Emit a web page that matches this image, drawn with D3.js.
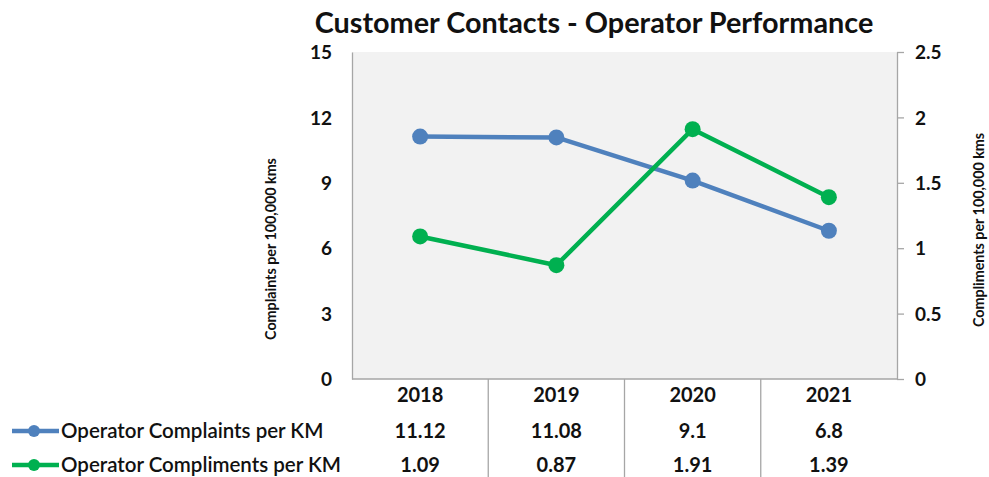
<!DOCTYPE html>
<html>
<head>
<meta charset="utf-8">
<script src="https://cdn.jsdelivr.net/npm/d3@7"></script>
<style>
  body { margin: 0; background: #fff; }
  text { font-family: Lato, "Open Sans", sans-serif; fill: #111; }
</style>
</head>
<body>
<script>
"use strict";

// chart data
var years = ["2018", "2019", "2020", "2021"];
var complaints = [11.12, 11.08, 9.1, 6.8];
var compliments = [1.09, 0.87, 1.91, 1.39];
var leftTicks = [0, 3, 6, 9, 12, 15];
var rightTicks = [0, 0.5, 1, 1.5, 2, 2.5];

var series = [
  { name: "Operator Complaints per KM", values: complaints, axis: "left", color: "#4f81bd" },
  { name: "Operator Compliments per KM", values: compliments, axis: "right", color: "#00b050" }
];

var W = 989, H = 477;
var plot = { left: 352, right: 897, top: 52, bottom: 379 };

var svg = d3.select("body").append("svg")
    .attr("width", W)
    .attr("height", H);

// scales
var xScale = d3.scaleBand()
    .domain(years)
    .range([plot.left, plot.right]);

var yLeft = d3.scaleLinear()
    .domain([0, 15])
    .range([plot.bottom, plot.top]);

var yRight = d3.scaleLinear()
    .domain([0, 2.5])
    .range([plot.bottom, plot.top]);

// plot background
svg.append("rect")
    .attr("x", plot.left)
    .attr("y", plot.top)
    .attr("width", plot.right - plot.left)
    .attr("height", plot.bottom - plot.top)
    .attr("fill", "#f2f2f2");

// title
svg.append("text")
    .attr("x", 594)
    .attr("y", 33)
    .attr("text-anchor", "middle")
    .attr("font-size", 28.8)
    .attr("font-weight", "bold")
    .text("Customer Contacts - Operator Performance");

// left axis (no ticks)
var gLeft = svg.append("g")
    .attr("transform", "translate(" + plot.left + ",0)")
    .call(d3.axisLeft(yLeft).tickValues(leftTicks).tickSize(0).tickPadding(20));

// right axis (outer ticks)
var gRight = svg.append("g")
    .attr("transform", "translate(" + plot.right + ",0)")
    .call(d3.axisRight(yRight).tickValues(rightTicks).tickSizeInner(7).tickSizeOuter(0).tickPadding(11)
      .tickFormat(function(d) { return String(d); }));

[gLeft, gRight].forEach(function(g) {
  g.select(".domain").attr("stroke", "#a6a6a6").attr("stroke-width", 1.3);
  g.selectAll(".tick line").attr("stroke", "#a6a6a6").attr("stroke-width", 1.3);
  g.selectAll(".tick text")
      .attr("font-size", 19)
      .attr("font-weight", "bold")
      .attr("font-family", "Lato, sans-serif")
      .attr("fill", "#111")
      .attr("dy", "0.35em");
});

// bottom axis line
svg.append("line")
    .attr("x1", plot.left)
    .attr("x2", plot.right)
    .attr("y1", plot.bottom)
    .attr("y2", plot.bottom)
    .attr("stroke", "#a6a6a6")
    .attr("stroke-width", 1.3);

// axis titles
svg.append("text")
    .attr("transform", "translate(276,249) rotate(-90)")
    .attr("text-anchor", "middle")
    .attr("font-size", 14.3)
    .attr("font-weight", "bold")
    .text("Complaints per 100,000 kms");

svg.append("text")
    .attr("transform", "translate(984,230) rotate(-90)")
    .attr("text-anchor", "middle")
    .attr("font-size", 14.3)
    .attr("font-weight", "bold")
    .text("Compliments per 100,000 kms");

// lines and markers
function yFor(s) { return s.axis == "left" ? yLeft : yRight; }

series.forEach(function(s) {
  var y = yFor(s);
  var line = d3.line()
      .x(function(d, i) { return xScale(years[i]) + xScale.bandwidth() / 2; })
      .y(function(d) { return y(d); });

  svg.append("path")
      .datum(s.values)
      .attr("d", line)
      .attr("fill", "none")
      .attr("stroke", s.color)
      .attr("stroke-width", 4.5)
      .attr("stroke-linejoin", "round");

  svg.selectAll(null)
      .data(s.values)
      .enter()
      .append("circle")
      .attr("cx", function(d, i) { return xScale(years[i]) + xScale.bandwidth() / 2; })
      .attr("cy", function(d) { return y(d); })
      .attr("r", 8)
      .attr("fill", s.color);
});

// data table
var rowY = [395, 431, 465];

// column separators
svg.selectAll(".sep")
    .data(years.slice(1))
    .enter()
    .append("line")
    .attr("class", "sep")
    .attr("x1", function(d) { return xScale(d); })
    .attr("x2", function(d) { return xScale(d); })
    .attr("y1", plot.bottom)
    .attr("y2", H)
    .attr("stroke", "#a6a6a6")
    .attr("stroke-width", 1.3);

svg.selectAll(".year")
    .data(years)
    .enter()
    .append("text")
    .attr("class", "year")
    .attr("x", function(d) { return xScale(d) + xScale.bandwidth() / 2; })
    .attr("y", rowY[0])
    .attr("dy", "0.35em")
    .attr("text-anchor", "middle")
    .attr("font-size", 20)
    .attr("font-weight", "bold")
    .text(function(d) { return d; });

series.forEach(function(s, k) {
  var ry = rowY[k + 1];
  svg.selectAll(null)
      .data(s.values)
      .enter()
      .append("text")
      .attr("x", function(d, i) { return xScale(years[i]) + xScale.bandwidth() / 2; })
      .attr("y", ry)
      .attr("dy", "0.35em")
      .attr("text-anchor", "middle")
      .attr("font-size", 20)
      .attr("font-weight", "bold")
      .text(function(d) { return String(d); });

  // legend key
  svg.append("line")
      .attr("x1", 12)
      .attr("x2", 59)
      .attr("y1", ry)
      .attr("y2", ry)
      .attr("stroke", s.color)
      .attr("stroke-width", 4.5);
  svg.append("circle")
      .attr("cx", 34)
      .attr("cy", ry)
      .attr("r", 6)
      .attr("fill", s.color);
  svg.append("text")
      .attr("x", 61)
      .attr("y", ry)
      .attr("dy", "0.35em")
      .attr("font-size", 20.5)
      .attr("font-weight", 600)
      .text(s.name);
});
</script>
</body>
</html>
